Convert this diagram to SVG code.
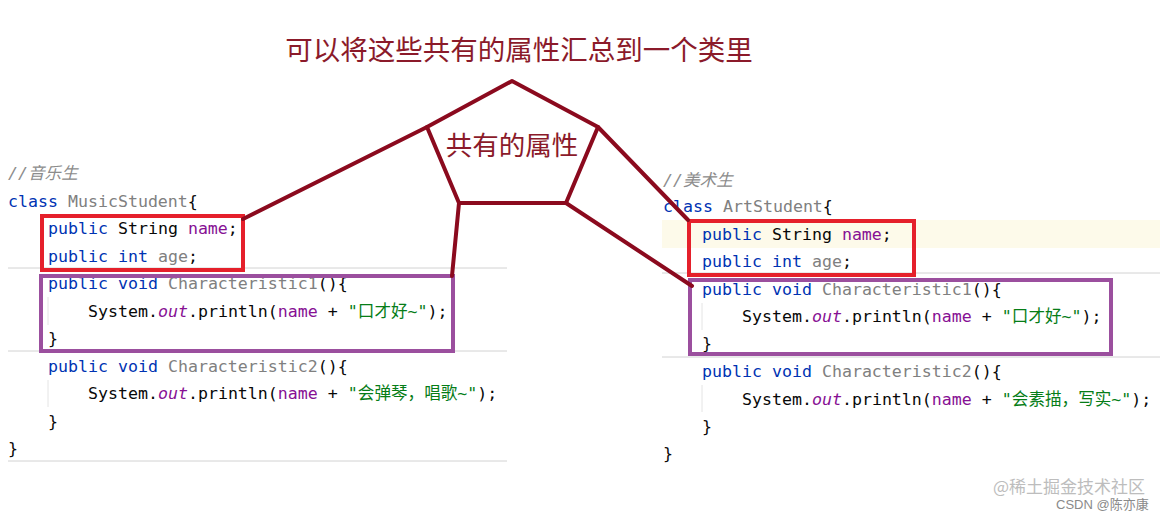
<svg xmlns="http://www.w3.org/2000/svg" width="1170" height="515" viewBox="0 0 1170 515">
<style>
.code{font-family:"DejaVu Sans Mono","Liberation Mono","Noto Sans CJK SC",monospace;font-size:16.6px;fill:#080808;white-space:pre}
.kw{fill:#0033B3}
.gr{fill:#808080}
.fld{fill:#871094}
.it{fill:#871094;font-style:italic}
.str{fill:#067D17}
.cm{fill:#8C8C8C;font-style:italic}
.sep{stroke:#D2D2D2;stroke-width:1}
.guide{stroke:#E4E4E4;stroke-width:1}
.red{fill:none;stroke:#E5202B;stroke-width:4}
.pur{fill:none;stroke:#9B4F9E;stroke-width:4}
.dr{fill:none;stroke:#8B0A1E;stroke-width:4;stroke-linejoin:round;stroke-linecap:round}
.title{font-family:"Noto Sans CJK SC","Noto Sans CJK TC",sans-serif;fill:#8B1A2A}
.wm{font-family:"Noto Sans CJK SC",sans-serif}
</style>
<rect width="1170" height="515" fill="#FFFFFF"/>

<g id="music-class">
<line class="sep" x1="8" y1="268" x2="507" y2="268"/>
<line class="sep" x1="8" y1="351" x2="507" y2="351"/>
<line class="sep" x1="8" y1="461" x2="507" y2="461"/>
<line class="guide" x1="48" y1="297" x2="48" y2="325"/>
<line class="guide" x1="48" y1="380" x2="48" y2="407"/>
<text class="code" x="8" y="179"><tspan class="cm">//音乐生</tspan></text>
<text class="code" x="8" y="207"><tspan class="kw">class</tspan> <tspan class="gr">MusicStudent</tspan>{</text>
<text class="code" x="48" y="234"><tspan class="kw">public</tspan> String <tspan class="fld">name</tspan>;</text>
<text class="code" x="48" y="262"><tspan class="kw">public</tspan> <tspan class="kw">int</tspan> <tspan class="gr">age</tspan>;</text>
<text class="code" x="48" y="289"><tspan class="kw">public</tspan> <tspan class="kw">void</tspan> <tspan class="gr">Characteristic1</tspan>(){</text>
<text class="code" x="88" y="317">System.<tspan class="it">out</tspan>.println(<tspan class="fld">name</tspan> + <tspan class="str">"口才好~"</tspan>);</text>
<text class="code" x="48" y="344">}</text>
<text class="code" x="48" y="372"><tspan class="kw">public</tspan> <tspan class="kw">void</tspan> <tspan class="gr">Characteristic2</tspan>(){</text>
<text class="code" x="88" y="399">System.<tspan class="it">out</tspan>.println(<tspan class="fld">name</tspan> + <tspan class="str">"会弹琴，唱歌~"</tspan>);</text>
<text class="code" x="48" y="427">}</text>
<text class="code" x="8" y="454">}</text>
<rect class="red" x="42" y="216" width="201" height="54"/>
<rect class="pur" x="41" y="276" width="412" height="75"/>
</g>

<g id="art-class">
<rect x="662" y="220" width="498" height="28" fill="#FDFAEA"/>
<line class="sep" x1="662" y1="273" x2="1160" y2="273"/>
<line class="sep" x1="662" y1="357" x2="1160" y2="357"/>
<line class="guide" x1="702" y1="303" x2="702" y2="330"/>
<line class="guide" x1="702" y1="385" x2="702" y2="412"/>
<text class="code" x="663" y="186"><tspan class="cm">//美术生</tspan></text>
<text class="code" x="663" y="212"><tspan class="kw">class</tspan> <tspan class="gr">ArtStudent</tspan>{</text>
<text class="code" x="702" y="240"><tspan class="kw">public</tspan> String <tspan class="fld">name</tspan>;</text>
<text class="code" x="702" y="267"><tspan class="kw">public</tspan> <tspan class="kw">int</tspan> <tspan class="gr">age</tspan>;</text>
<text class="code" x="702" y="295"><tspan class="kw">public</tspan> <tspan class="kw">void</tspan> <tspan class="gr">Characteristic1</tspan>(){</text>
<text class="code" x="742" y="322">System.<tspan class="it">out</tspan>.println(<tspan class="fld">name</tspan> + <tspan class="str">"口才好~"</tspan>);</text>
<text class="code" x="702" y="349">}</text>
<text class="code" x="702" y="377"><tspan class="kw">public</tspan> <tspan class="kw">void</tspan> <tspan class="gr">Characteristic2</tspan>(){</text>
<text class="code" x="742" y="405">System.<tspan class="it">out</tspan>.println(<tspan class="fld">name</tspan> + <tspan class="str">"会素描，写实~"</tspan>);</text>
<text class="code" x="702" y="432">}</text>
<text class="code" x="663" y="459">}</text>
<rect class="red" x="689" y="221" width="225" height="54"/>
<rect class="pur" x="690" y="280" width="421" height="74"/>
</g>

<g id="common-attributes">
<polygon class="dr" points="512,81 598,127 566,203 459,203 427,127"/>
<text class="title" x="512" y="155" font-size="26.5" text-anchor="middle">共有的属性</text>
</g>

<g id="title">
<text class="title" x="519" y="60" font-size="27.5" text-anchor="middle">可以将这些共有的属性汇总到一个类里</text>
</g>

<g id="connectors">
<line class="dr" x1="427" y1="127" x2="243" y2="219"/>
<line class="dr" x1="459" y1="203" x2="452" y2="276"/>
<line class="dr" x1="598" y1="127" x2="688" y2="220"/>
<line class="dr" x1="566" y1="203" x2="692" y2="286"/>
</g>

<g id="watermark">
<text class="wm" x="993" y="493" font-size="17" fill="#BDBDBD">@稀土掘金技术社区</text>
<text x="1056" y="509" font-size="13" fill="#8A8A8A" font-family="'Liberation Sans','Noto Sans CJK SC',sans-serif">CSDN @陈亦康</text>
</g>
</svg>
